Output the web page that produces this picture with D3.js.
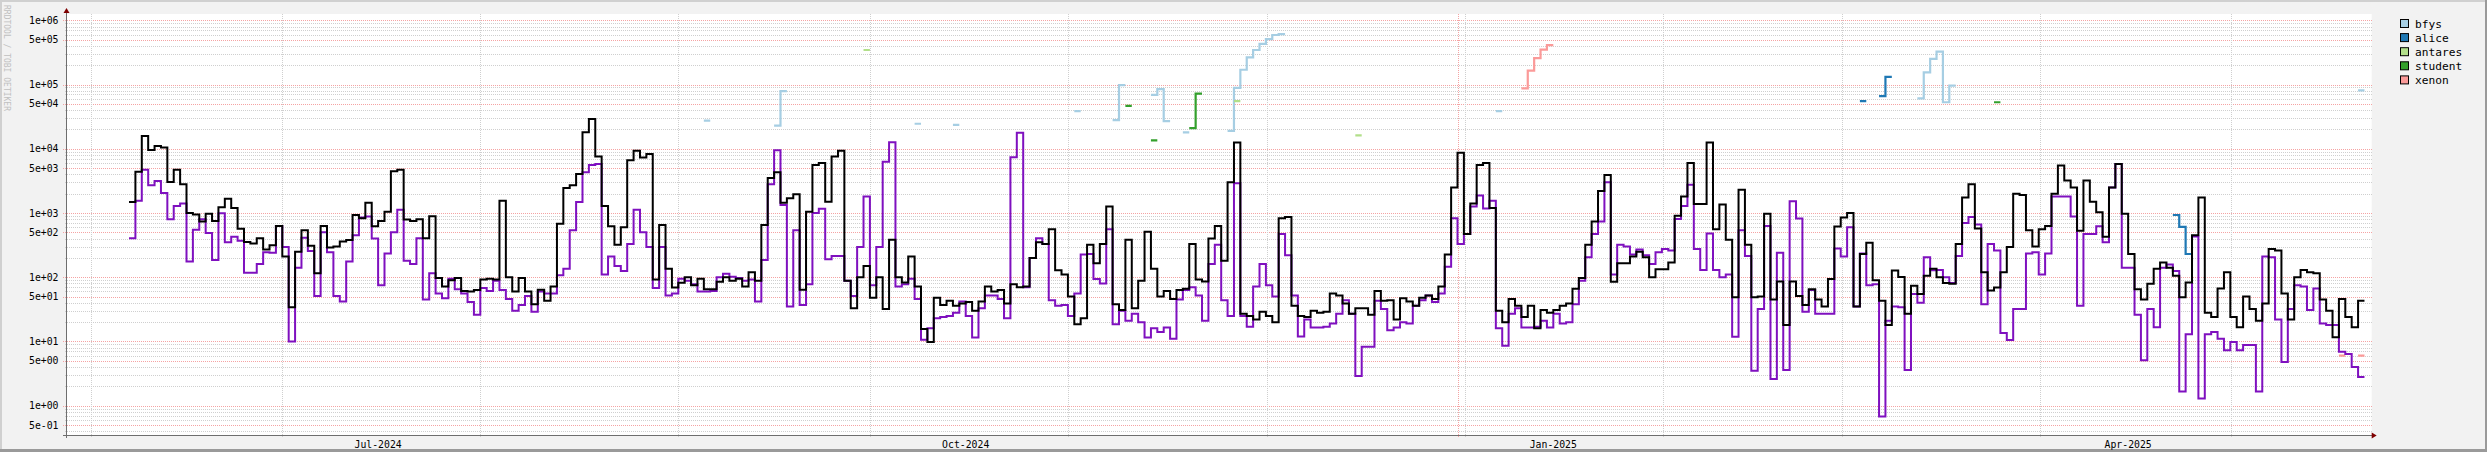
<!DOCTYPE html>
<html><head><meta charset="utf-8">
<script src="https://cdn.jsdelivr.net/npm/d3@7/dist/d3.min.js"></script>
<style>
html,body{margin:0;padding:0;background:#f2f2f2;overflow:hidden;}
svg{display:block;}
text{font-family:"DejaVu Sans Mono",monospace;}
</style></head><body>
<svg id="chart" width="2487" height="452"></svg>
<script>
// ---------------- data ----------------
const firstDay = "2024-06-07";   // first daily step of the two long series
const blackValues = [
1480,4400,15800,9600,11000,10500,3030,4700,2800,1000,
950,740,970,750,1230,1660,1200,570,355,335,
405,270,315,630,210,34,250,540,310,115,
630,290,300,360,380,930,830,1450,620,750,
1050,4450,4700,790,750,800,405,890,97,72,
90,97,61,60,63,92,95,92,1550,100,
60,97,60,38,64,43,72,680,2450,2700,
4050,18000,29000,7600,1290,620,320,600,6600,9300,
7300,8300,92,650,135,69,82,100,75,95,
65,65,85,100,88,95,72,120,88,650,
3500,4300,1450,1700,1950,64,1050,5600,6000,1500,
7600,9300,88,33,100,150,48,100,32,
385,100,83,210,72,15.7,9.8,48,37,43,
36,39,41,30,42,72,60,63,39,78,
70,72,200,350,330,560,128,110,50,18.6,
23,320,165,330,1260,38,31,385,33,88,
510,135,50,61,46,63,66,330,92,86,
400,630,180,3000,12500,27,25,22,29,25,
20,830,870,36,25,24,30,28,29,56,
52,39,27,33,33,26,61,43,44,22,
47,42,36,48,52,46,72,225,2500,8700,
470,1400,5600,6000,1200,30,20,46,36,24,
36,16,31,28,31,36,39,66,97,320,
740,2200,3900,85,165,165,210,250,205,100,
133,133,170,910,1800,6000,1380,1380,12500,560,
1360,385,49,2300,320,49,50,970,45,86,
18,86,51,37,65,45,35,94,615,850,
1000,35,230,345,90,43,18,127,101,27,
74,55,105,135,100,81,79,330,1740,2800,
575,120,62,69,120,295,2000,1900,540,300,
560,630,2000,5500,3200,2500,530,3200,1500,1030,
425,2500,5800,970,230,65,45,79,135,170,
140,105,49,83,450,1740,28,24,67,120,
24,16.6,50,32,21,39,275,260,56,22,
100,130,120,115,45,30,11.6,46,24,16.6,
43];
const purpleValues = [
405,1550,4700,2700,3150,2050,800,1290,1400,175,
550,800,490,185,990,350,425,370,117,117,
160,245,240,630,295,10,140,410,255,51,
500,245,51,42,175,450,850,880,400,75,
235,500,1120,180,160,405,45,115,56,47,
95,65,56,41,26,68,61,88,63,46,
30,37,51,29,60,56,56,107,135,540,
1480,4300,5600,5800,110,210,150,125,330,1120,
500,295,68,295,52,56,95,88,78,60,
60,61,100,113,102,97,88,92,42,185,
2800,9500,1330,35,540,37,78,1000,1160,190,
215,215,88,51,295,1800,75,295,6300,
12600,72,78,95,46,10.6,16,23,24,25,
28,42,25,11.5,33,52,52,46,23,7400,
17700,70,200,405,330,44,36,37,25,56,
225,230,94,80,560,18.5,30,21,27,20,
11.5,16,14,16.5,11,45,63,70,52,21,
160,320,44,25,2900,25,17,72,160,75,
50,470,220,52,12,22,16.5,16.5,17,19,
27,44,27,2.9,8.3,8.3,43,32,15,16.5,
20,19,36,44,52,41,56,145,830,330,
470,1260,1870,1180,1550,16,8.6,27,33,16.5,
16.5,17,21,16.5,27,19,20,38,88,205,
470,740,3000,110,320,300,225,270,220,160,
245,275,260,810,1290,2750,275,130,480,130,
100,110,11.8,540,215,3.5,32,630,2.6,240,
3.6,1520,820,29,63,27,27,27,280,210,
600,35,235,75,78,0.68,21,35,34,3.6,
55,40,205,128,130,100,81,215,700,870,
660,38,330,260,13.5,10.5,32,32,235,245,
110,235,1800,1800,1800,880,36,470,470,620,
350,2500,5800,140,140,26,5.1,32,16.6,140,
158,125,1.66,13,430,1.3,13,14,11,7.3,
9.8,7.3,8.8,8.8,1.66,210,205,22,4.8,32,
75,72,31,67,19,18,18,6.9,6.4,4.0,
2.8];

const bfysDates = ["2024-09-05","2024-09-16","2024-09-17","2024-10-08","2024-10-14","2024-11-02","2024-11-08","2024-11-09",
  "2024-11-14","2024-11-15","2024-11-16","2024-11-19","2024-11-26","2024-11-27","2024-11-28","2024-11-29","2024-11-30",
  "2024-12-01","2024-12-02","2024-12-03","2024-12-04","2025-01-07","2025-03-14","2025-03-15","2025-03-16","2025-03-17",
  "2025-03-18","2025-03-19","2025-05-22"];
const bfysValues = [27500,23000,79000,24500,23500,38500,28000,98000,
  69000,85000,27000,18000,19000,88500,170000,265000,345000,
  430000,510000,590000,610000,38500,61000,155000,250000,325000,
  53000,96000,81000];
const aliceDates = ["2025-03-05","2025-03-08","2025-03-09","2025-04-23","2025-04-24","2025-04-25"];
const aliceValues = [55000,66000,132000,930,610,230];
const antaresDates = ["2024-09-30","2024-11-27","2024-12-16"];
const antaresValues = [345000,55000,16200];
const studentDates = ["2024-11-10","2024-11-14","2024-11-20","2024-11-21","2025-03-26"];
const studentValues = [46500,13500,21000,72000,53000];
const xenonDates = ["2025-01-11","2025-01-12","2025-01-13","2025-01-14","2025-01-15","2025-05-19","2025-05-22"];
const xenonValues = [87000,165000,258000,350000,410000,6.0,6.0];

const legendNames = ["bfys","alice","antares","student","xenon"];
const legendColors = ["#a6cee3","#1f78b4","#b2df8a","#33a02c","#fb9a99"];

const yTickValues = [1e6,5e5,1e5,5e4,1e4,5e3,1e3,5e2,1e2,5e1,1e1,5,1,0.5];
const labelMonths = ["2024-07-01","2024-10-01","2025-01-01","2025-04-01"];
const minorGridDates = ["2024-06-01","2024-07-01","2024-08-01","2024-09-01","2024-10-01","2024-11-01",
  "2024-12-02T03:00","2025-01-02T03:00","2025-02-02T03:00","2025-03-02T03:00","2025-04-02T03:00","2025-05-02T03:00"];
const majorGridDates = ["2025-01-01"];
const watermark = "RRDTOOL / TOBI OETIKER";

// ---------------- layout ----------------
const W = 2487, H = 452;
const plotL = 66, plotR = 2371.7, plotT = 14, plotB = 435;
const DAY = 86400000;
const parse = s => new Date(s.length > 10 ? s + ":00Z" : s + "T00:00:00Z");

const x = d3.scaleUtc()
  .domain([new Date(Date.UTC(2024,4,28,3,12)), new Date(Date.UTC(2025,4,24,3,12))])
  .range([plotL, plotR]);
const y = d3.scaleLog().domain([1, 1e6]).range([405.7, 20.3]);

const svg = d3.select("#chart");

// frame
svg.append("rect").attr("x",0).attr("y",0).attr("width",W).attr("height",H).attr("fill","#f2f2f2");
svg.append("rect").attr("x",0).attr("y",0).attr("width",W).attr("height",2).attr("fill","#d0d0d0");
svg.append("rect").attr("x",0).attr("y",0).attr("width",2).attr("height",H).attr("fill","#d0d0d0");
svg.append("rect").attr("x",0).attr("y",H-3).attr("width",W).attr("height",3).attr("fill","#9a9a9a");
svg.append("rect").attr("x",W-2).attr("y",0).attr("width",2).attr("height",H).attr("fill","#9a9a9a");

// canvas
svg.append("rect").attr("x",plotL).attr("y",plotT).attr("width",plotR-plotL).attr("height",plotB-plotT).attr("fill","#ffffff");

// horizontal grid
const gGrid = svg.append("g").attr("shape-rendering","crispEdges");
for (let e = -1; e <= 6; e++) {
  for (let m = 1; m <= 9; m++) {
    const v = m * Math.pow(10, e);
    const yy = Math.round(y(v)) + 0.5;
    if (yy < plotT || yy > plotB) continue;
    const major = (m === 1 || m === 5);
    gGrid.append("line")
      .attr("x1", major ? plotL - 3 : plotL - 1).attr("x2", plotR)
      .attr("y1", yy).attr("y2", yy)
      .attr("stroke", major ? "#f5a3a3" : "#cfcfcf")
      .attr("stroke-width", 1)
      .attr("stroke-dasharray", "1,1");
  }
}
// vertical grid
minorGridDates.forEach(d => {
  const xx = Math.round(x(parse(d))) + 0.5;
  gGrid.append("line").attr("x1",xx).attr("x2",xx).attr("y1",plotT).attr("y2",plotB+3)
    .attr("stroke","#cfcfcf").attr("stroke-dasharray","1,1");
});
majorGridDates.forEach(d => {
  const xx = Math.round(x(parse(d))) + 0.5;
  gGrid.append("line").attr("x1",xx).attr("x2",xx).attr("y1",plotT).attr("y2",plotB+3)
    .attr("stroke","#f5a3a3").attr("stroke-dasharray","1,1");
});

// y labels
const fmt = v => {
  const [mant, ex] = v.toExponential(0).split("e");
  const sign = ex[0];
  const digits = ex.slice(1).padStart(2, "0");
  return mant + "e" + sign + digits;
};
svg.append("g").selectAll("text").data(yTickValues).join("text")
  .attr("x", 58.5).attr("y", d => y(d)).attr("text-anchor","end")
  .attr("dominant-baseline","central").attr("font-size","9.8px").attr("fill","#000")
  .text(fmt);

// x labels
svg.append("g").selectAll("text").data(labelMonths).join("text")
  .attr("x", d => x(new Date(parse(d).getTime() + 15*DAY)))
  .attr("y", 444.5).attr("text-anchor","middle").attr("dominant-baseline","central")
  .attr("font-size","9.8px").attr("fill","#000")
  .text(d => d3.utcFormat("%b-%Y")(parse(d)));

// series helpers
function dailyPoints(start, values) {
  const t0 = parse(start).getTime();
  const pts = values.map((v, i) => ({t: new Date(t0 + i*DAY), v}));
  pts.push({t: new Date(t0 + values.length*DAY), v: values[values.length-1]});
  return pts;
}
function sparsePoints(dates, values) {
  const pts = [];
  dates.forEach((d, i) => {
    const t = parse(d).getTime();
    pts.push({t: new Date(t), v: values[i]});
    const next = i + 1 < dates.length ? parse(dates[i+1]).getTime() : null;
    if (next !== t + DAY) {
      pts.push({t: new Date(t + DAY), v: values[i]});
      pts.push({t: new Date(t + DAY), v: null});
    }
  });
  return pts;
}
const line = d3.line().defined(p => p.v != null)
  .x(p => x(p.t)).y(p => y(p.v)).curve(d3.curveStepAfter);

const gLines = svg.append("g");
const sparse = [
  [bfysDates, bfysValues, legendColors[0]],
  [aliceDates, aliceValues, legendColors[1]],
  [antaresDates, antaresValues, legendColors[2]],
  [studentDates, studentValues, legendColors[3]],
  [xenonDates, xenonValues, legendColors[4]],
];
sparse.forEach(([d, v, c]) => {
  gLines.append("path").attr("d", line(sparsePoints(d, v)))
    .attr("fill","none").attr("stroke", c).attr("stroke-width", 2.2);
});
gLines.append("path").attr("d", line(dailyPoints(firstDay, purpleValues)))
  .attr("fill","none").attr("stroke","#7f10bf").attr("stroke-width",2);
gLines.append("path").attr("d", line(dailyPoints(firstDay, blackValues)))
  .attr("fill","none").attr("stroke","#000000").attr("stroke-width",2);

// axes
const gAx = svg.append("g").attr("shape-rendering","crispEdges");
gAx.append("line").attr("x1",plotL-3).attr("x2",plotR+1).attr("y1",plotB+0.5).attr("y2",plotB+0.5)
  .attr("stroke","#6e6e6e");
gAx.append("line").attr("x1",plotL+0.5).attr("x2",plotL+0.5).attr("y1",plotT-1).attr("y2",plotB+3)
  .attr("stroke","#6e6e6e");
svg.append("path").attr("d",`M${plotL-2.5},${plotT-1}L${plotL+3.5},${plotT-1}L${plotL+0.5},${plotT-6}Z`).attr("fill","#7f0000");
svg.append("path").attr("d",`M${plotR},${plotB-2.5}L${plotR},${plotB+3.5}L${plotR+5},${plotB+0.5}Z`).attr("fill","#7f0000");

// legend
const gLeg = svg.append("g");
legendNames.forEach((n, i) => {
  const cy = 24 + i*14.1;
  gLeg.append("rect").attr("x",2400.5).attr("y",cy-4.5).attr("width",8).attr("height",8)
    .attr("fill",legendColors[i]).attr("stroke","#000").attr("stroke-width",1);
  gLeg.append("text").attr("x",2415).attr("y",cy).attr("dominant-baseline","central")
    .attr("font-size","11.2px").attr("fill","#000").text(n);
});

// watermark
svg.append("text").attr("transform","translate(6.5,5) rotate(90)")
  .attr("font-size","8px").attr("fill","#c0c0c0").attr("dominant-baseline","central")
  .text(watermark);
</script>
</body></html>
